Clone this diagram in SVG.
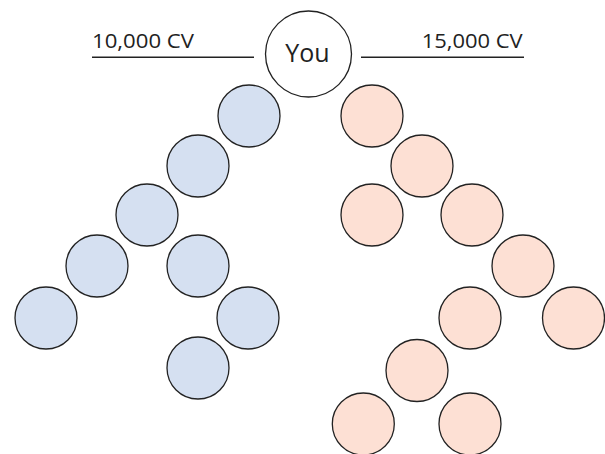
<svg xmlns="http://www.w3.org/2000/svg" width="605" height="454" viewBox="0 0 605 454">
<style>
.b{fill:#d5e0f1;stroke:#222;stroke-width:1.3}
.p{fill:#fde0d4;stroke:#222;stroke-width:1.3}
.y{fill:#fff;stroke:#222;stroke-width:1.3}
.t{font-family:"Open Sans","Liberation Sans",sans-serif;fill:#222}
.l{stroke:#222;stroke-width:1.5}
</style>
<rect width="605" height="454" fill="#fff"/>
<g id="connectors">
<line class="l" x1="92" y1="57.3" x2="254" y2="57.3"/>
<line class="l" x1="361" y1="57.3" x2="524" y2="57.3"/>
</g>
<g id="label-left"><text class="t" x="92" y="47.7" font-size="20" textLength="102" lengthAdjust="spacingAndGlyphs">10,000 CV</text></g>
<g id="label-right"><text class="t" x="421.7" y="47.7" font-size="20" textLength="101" lengthAdjust="spacingAndGlyphs">15,000 CV</text></g>
<g id="you"><circle class="y" cx="308.5" cy="54" r="43"/><text class="t" x="307.5" y="61.7" font-size="25" text-anchor="middle">You</text></g>
<g id="b1"><circle class="b" cx="249" cy="116" r="31"/></g>
<g id="b2"><circle class="b" cx="198" cy="166" r="31"/></g>
<g id="b3"><circle class="b" cx="147" cy="215" r="31"/></g>
<g id="b4"><circle class="b" cx="97" cy="266" r="31"/></g>
<g id="b5"><circle class="b" cx="198" cy="266" r="31"/></g>
<g id="b6"><circle class="b" cx="46" cy="318" r="31"/></g>
<g id="b7"><circle class="b" cx="248" cy="318" r="31"/></g>
<g id="b8"><circle class="b" cx="198" cy="368" r="31"/></g>
<g id="p1"><circle class="p" cx="372" cy="116" r="31"/></g>
<g id="p2"><circle class="p" cx="422" cy="166" r="31"/></g>
<g id="p3"><circle class="p" cx="372" cy="215" r="31"/></g>
<g id="p4"><circle class="p" cx="472" cy="215" r="31"/></g>
<g id="p5"><circle class="p" cx="523" cy="266" r="31"/></g>
<g id="p6"><circle class="p" cx="470" cy="318" r="31"/></g>
<g id="p7"><circle class="p" cx="573.5" cy="318" r="31"/></g>
<g id="p8"><circle class="p" cx="417" cy="370.5" r="31"/></g>
<g id="p9"><circle class="p" cx="363.3" cy="424" r="31"/></g>
<g id="p10"><circle class="p" cx="470" cy="424" r="31"/></g>
</svg>
